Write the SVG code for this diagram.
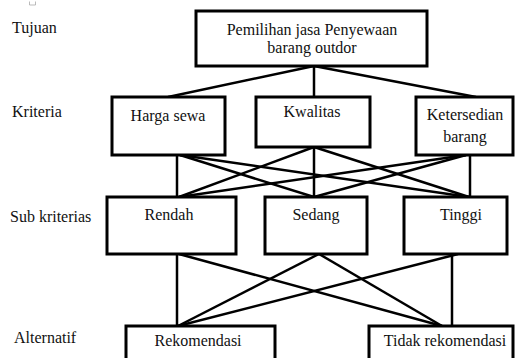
<svg xmlns="http://www.w3.org/2000/svg" width="526" height="358" viewBox="0 0 526 358">
<style>
  .box { fill: #ffffff; stroke: #000000; stroke-width: 3; }
  text { font-family: 'Liberation Serif', 'DejaVu Serif', 'Times New Roman', Times, serif; font-size: 16px; fill: #111111; }
  .c { text-anchor: middle; }
  .ln { stroke: #000000; stroke-width: 2.5; fill: none; stroke-linecap: butt; }
</style>
<rect width="526" height="358" fill="#ffffff"/>
<path d="M29.5,1.5 V5 H35.5 V1.5" fill="none" stroke="#aaaaaa" stroke-width="0.8"/>

<g id="labels" font-family="Liberation Serif, serif">
  <text x="12" y="33">Tujuan</text>
  <text x="12" y="117">Kriteria</text>
  <text x="10" y="222">Sub kriterias</text>
  <text x="14" y="343">Alternatif</text>
</g>

<g id="connectors">
  <line class="ln" x1="314" y1="66" x2="168" y2="97"/>
  <line class="ln" x1="314" y1="66" x2="314" y2="97"/>
  <line class="ln" x1="314" y1="66" x2="476" y2="97"/>
  <line class="ln" x1="177" y1="155" x2="177" y2="197"/>
  <line class="ln" x1="180" y1="155" x2="314" y2="197"/>
  <line class="ln" x1="180" y1="155" x2="469" y2="197"/>
  <line class="ln" x1="314" y1="147" x2="179" y2="197"/>
  <line class="ln" x1="314" y1="147" x2="314" y2="197"/>
  <line class="ln" x1="314" y1="147" x2="469" y2="197"/>
  <line class="ln" x1="470" y1="155" x2="470" y2="197"/>
  <line class="ln" x1="466" y1="155" x2="179" y2="197"/>
  <line class="ln" x1="466" y1="155" x2="314" y2="197"/>
  <line class="ln" x1="177" y1="254" x2="177" y2="326"/>
  <line class="ln" x1="179" y1="254" x2="442" y2="326"/>
  <line class="ln" x1="319" y1="254" x2="178" y2="326"/>
  <line class="ln" x1="319" y1="254" x2="442" y2="326"/>
  <line class="ln" x1="452" y1="254" x2="452" y2="326"/>
  <line class="ln" x1="458" y1="254" x2="178" y2="326"/>
</g>

<g id="goal">
  <rect class="box" x="196" y="11" width="231" height="55"/>
  <text class="c" x="312" y="35">Pemilihan jasa Penyewaan</text>
  <text class="c" x="312" y="53">barang outdor</text>
</g>

<g id="harga-sewa">
  <rect class="box" x="112" y="97" width="113" height="58"/>
  <text class="c" x="168" y="121">Harga sewa</text>
</g>
<g id="kwalitas">
  <rect class="box" x="256" y="97" width="114" height="50"/>
  <text class="c" x="312" y="117">Kwalitas</text>
</g>
<g id="ketersedian">
  <rect class="box" x="416" y="97" width="97" height="58"/>
  <text class="c" x="465" y="120">Ketersedian</text>
  <text class="c" x="465" y="142">barang</text>
</g>

<g id="rendah">
  <rect class="box" x="107" y="197" width="129" height="57"/>
  <text class="c" x="169" y="220">Rendah</text>
</g>
<g id="sedang">
  <rect class="box" x="265" y="197" width="102" height="57"/>
  <text class="c" x="316" y="220">Sedang</text>
</g>
<g id="tinggi">
  <rect class="box" x="404" y="197" width="103" height="57"/>
  <text class="c" x="461" y="220">Tinggi</text>
</g>

<g id="rekomendasi">
  <rect class="box" x="126" y="326" width="149" height="40"/>
  <text class="c" x="198" y="346">Rekomendasi</text>
</g>
<g id="tidak-rekomendasi">
  <rect class="box" x="369" y="326" width="144" height="40"/>
  <text class="c" x="445" y="346">Tidak rekomendasi</text>
</g>
</svg>
